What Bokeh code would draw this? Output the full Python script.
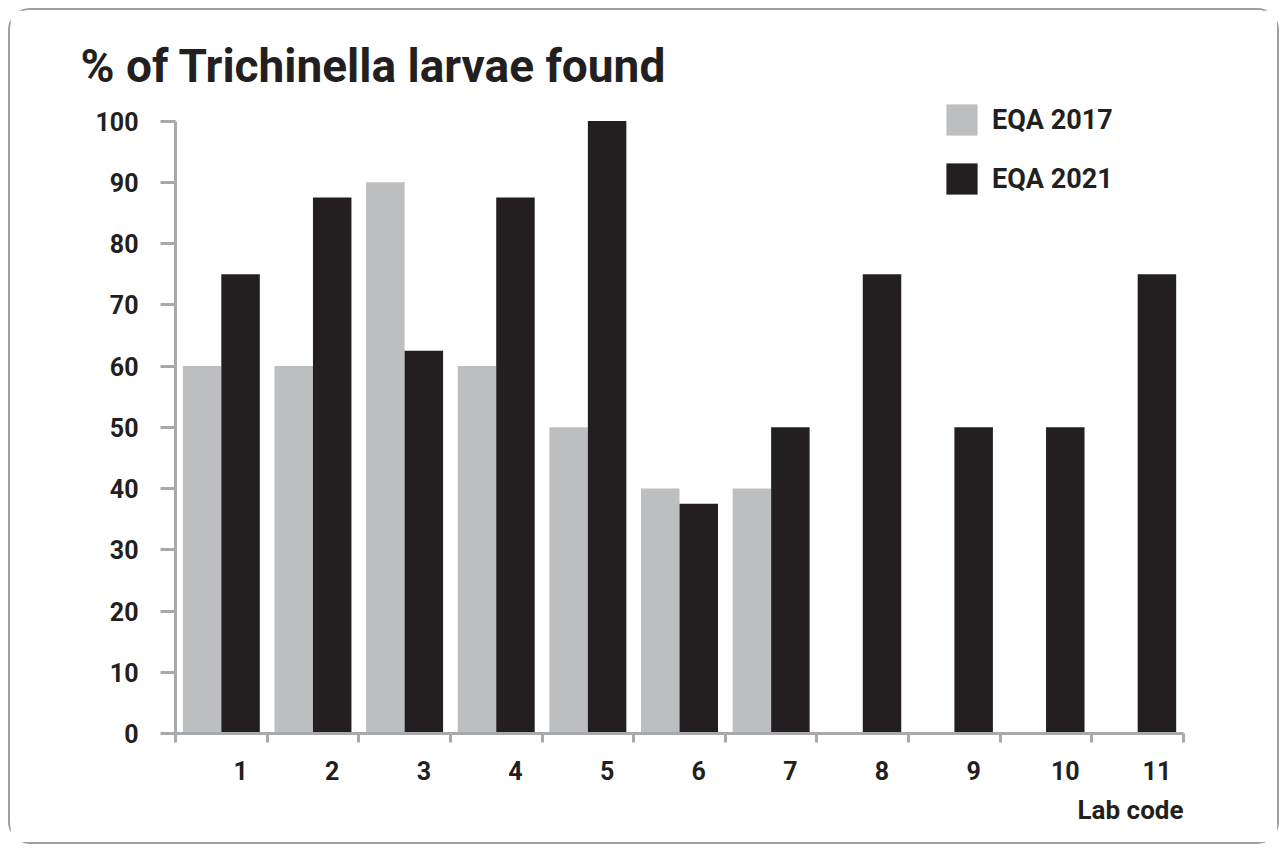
from bokeh.plotting import figure
from bokeh.models import (ColumnDataSource, FixedTicker, CustomJSTickFormatter,
                          Legend, LegendItem, Title, Range1d)
from bokeh.transform import dodge
from bokeh.embed import file_html
from bokeh.resources import INLINE

# ---- data ----
lab_codes = [1, 2, 3, 4, 5, 6, 7, 8, 9, 10, 11]
eqa_2017 = [60, 60, 90, 60, 50, 40, 40, float("nan"), float("nan"), float("nan"), float("nan")]
eqa_2021 = [75, 87.5, 62.5, 87.5, 100, 37.5, 50, 75, 50, 50, 75]
y_ticks = [0, 10, 20, 30, 40, 50, 60, 70, 80, 90, 100]
series_names = ["EQA 2017", "EQA 2021"]
title_text = "% of Trichinella larvae found"
x_title = "Lab code"

GRAY = "#bcbec0"
BLACK = "#231f20"
AXIS = "#a7a9ac"
FONT = "Roboto"

src = ColumnDataSource(dict(x=lab_codes, a=eqa_2017, b=eqa_2021))

p = figure(width=1271, height=836,
           x_range=Range1d(0.5, 11.5), y_range=Range1d(0, 104),
           output_backend="svg", toolbar_location=None,
           min_border_left=165, min_border_right=98,
           min_border_top=86, min_border_bottom=113,
           styles={"border": "2px solid #9d9fa2", "border-radius": "22px",
                   "margin": "8px 0px 0px 8px"})

r1 = p.vbar(x=dodge("x", -0.21, range=p.x_range), top="a", width=0.42,
            source=src, fill_color=GRAY, line_color=None)
r2 = p.vbar(x=dodge("x", 0.21, range=p.x_range), top="b", width=0.42,
            source=src, fill_color=BLACK, line_color=None)

p.xgrid.visible = False
p.ygrid.visible = False
p.outline_line_color = None

# title
p.title.text = title_text
p.title.align = "left"
p.title.offset = -95
p.title.standoff = 7
p.title.text_font = FONT
p.title.text_font_size = "46px"
p.title.text_font_style = "bold"
p.title.text_color = BLACK

# y axis
ya = p.yaxis[0]
ya.ticker = FixedTicker(ticks=y_ticks, minor_ticks=[])
ya.bounds = (0, 100)
ya.axis_line_color = AXIS
ya.axis_line_width = 3
ya.major_tick_line_color = AXIS
ya.major_tick_line_width = 3
ya.major_tick_out = 15
ya.major_tick_in = 0
ya.minor_tick_line_color = None
ya.major_label_standoff = 22
ya.major_label_text_font = FONT
ya.major_label_text_font_size = "25px"
ya.major_label_text_font_style = "bold"
ya.major_label_text_color = BLACK

# x axis
xa = p.xaxis[0]
xa.ticker = FixedTicker(ticks=[c + 0.21 for c in lab_codes],
                        minor_ticks=[c - 0.5 for c in lab_codes] + [lab_codes[-1] + 0.5])
xa.formatter = CustomJSTickFormatter(code="return String(Math.round(tick - 0.21));")
xa.axis_line_color = AXIS
xa.axis_line_width = 3
xa.major_tick_line_color = None
xa.major_tick_out = 0
xa.major_tick_in = 0
xa.minor_tick_line_color = AXIS
xa.minor_tick_line_width = 3
xa.minor_tick_out = 9
xa.minor_tick_in = 0
xa.major_label_standoff = 18
xa.major_label_text_font = FONT
xa.major_label_text_font_size = "25px"
xa.major_label_text_font_style = "bold"
xa.major_label_text_color = BLACK

p.add_layout(Title(text=x_title, align="right", text_font=FONT,
                   text_font_size="26px", text_font_style="bold",
                   text_color=BLACK, standoff=20), "below")

legend = Legend(items=[LegendItem(label=series_names[0], renderers=[r1]),
                       LegendItem(label=series_names[1], renderers=[r2])],
                location=(767, 535), orientation="vertical",
                glyph_width=39, glyph_height=39, label_height=39,
                spacing=20, label_standoff=11, padding=0, margin=0,
                border_line_color=None, background_fill_alpha=0,
                label_text_font=FONT, label_text_font_size="27px",
                label_text_font_style="bold", label_text_color=BLACK)
p.add_layout(legend)

open("out.html", "w").write(file_html(p, INLINE))
